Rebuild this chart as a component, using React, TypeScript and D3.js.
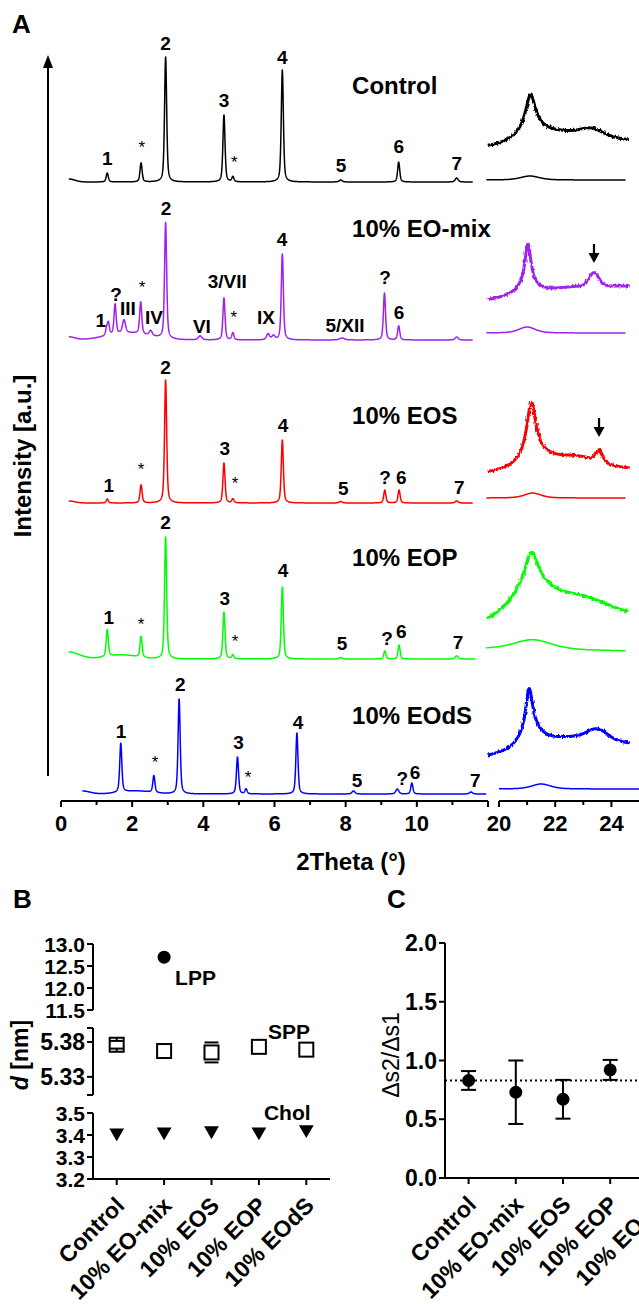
import React from "react";
import * as d3 from "d3";

const FONT = "'Liberation Sans', Arial, Helvetica, sans-serif";

// ================= Panel A : stacked diffractograms =================
const sampleNames = ["Control", "10% EO-mix", "10% EOS", "10% EOP", "10% EOdS"];
const traceColors = ["#000000", "#a020f0", "#ff0000", "#00ff00", "#0000ff"];
// vertical stacking offset of each trace (a.u.)
const stackOffsets = [618, 460, 297, 141, 6];
const saxsStart = [0.22, 0.22, 0.22, 0.22, 0.6];
const saxsEnd = [11.57, 11.57, 11.57, 11.65, 11.95];

// SAXS reflections: [2θ, height, hwhm?, eta?]
const controlPeaks = [
  [1.3, 9], [2.25, 19], [2.94, 125], [4.58, 67], [4.83, 5], [6.22, 112],
  [7.86, 2, 0.05], [9.49, 20], [11.12, 4, 0.05], [0.22, 3, 0.2, 0],
];
const eoMixPeaks = [
  [1.28, 6], [1.33, 12], [1.52, 30], [1.77, 13, 0.05], [2.24, 32], [2.52, 5, 0.05],
  [2.94, 116], [3.91, 4, 0.06], [4.58, 42], [4.83, 7], [5.82, 6, 0.05], [5.97, 4, 0.05],
  [6.22, 86], [7.9, 2, 0.08], [9.09, 47], [9.49, 14], [11.12, 3, 0.05],
  [0.22, 3, 0.2, 0], [1.9, 7, 0.7, 0],
];
const eosPeaks = [
  [1.3, 4], [2.25, 18], [2.94, 123], [4.58, 40], [4.83, 4], [6.22, 63],
  [7.86, 1.5, 0.05], [9.1, 13], [9.5, 13], [11.12, 2, 0.05], [0.22, 2, 0.2, 0],
];
const eopPeaks = [
  [1.3, 27], [2.25, 21], [2.94, 122], [4.58, 47], [4.83, 4], [6.22, 72],
  [7.86, 1.5, 0.05], [9.1, 8], [9.5, 14], [11.12, 3, 0.05], [0.22, 7, 0.35, 0], [1.7, 4, 0.5, 0],
];
const eodsPeaks = [
  [1.68, 49], [2.61, 17], [3.32, 95], [4.96, 37], [5.2, 5], [6.63, 61],
  [8.22, 3, 0.05], [9.45, 5, 0.05], [9.86, 11], [11.52, 2, 0.05], [0.6, 3, 0.25, 0], [2.1, 3, 0.5, 0],
];
const saxsPeaks = [controlPeaks, eoMixPeaks, eosPeaks, eopPeaks, eodsPeaks];

// WAXS (magnified) : background [start, end] and bands [2θ, height, hwhm, eta]
const waxsStart = [19.6, 19.6, 19.6, 19.6, 19.6];
const waxsEnd = [24.6, 24.65, 24.65, 24.6, 24.65];
const waxsBackground = [[33, 37], [39, 53], [28, 33], [25, 40], [36, 45]];
const controlWaxs = [[21.12, 36, 0.22, 1], [21.2, 12, 0.8, 1], [22.8, 12, 1.5, 0], [23.3, 5, 0.4, 0]];
const eoMixWaxs = [[21.03, 42, 0.13, 1], [21.0, 10, 0.5, 1], [22.8, 5, 1.2, 0], [23.38, 13, 0.2, 0]];
const eosWaxs = [[21.15, 55, 0.2, 1], [21.3, 15, 0.8, 1], [22.8, 12, 1.0, 0], [23.56, 11, 0.15, 0]];
const eopWaxs = [[21.15, 35, 0.3, 1], [21.2, 40, 1.2, 1], [23.0, 15, 1.06, 0]];
const eodsWaxs = [[21.07, 43, 0.15, 1], [21.15, 18, 0.5, 1], [22.8, 14, 1.6, 0], [23.5, 9, 0.4, 0]];
const waxsBands = [controlWaxs, eoMixWaxs, eosWaxs, eopWaxs, eodsWaxs];

// WAXS (true scale)
const waxsLowStart = [19.55, 19.55, 19.55, 19.55, 20.0];
const waxsLowEnd = [24.5, 24.5, 24.5, 24.5, 25.0];
const waxsLowBackground = [[2, 2], [7, 7], [5, 5], [10, 8], [5, 5]];
const waxsLowBands = [[21.1, 4, 0.4, 0.5], [21.0, 6, 0.35, 0.5], [21.2, 5, 0.35, 0.5], [21.2, 10, 0.8, 0.5], [21.5, 5, 0.4, 0.5]];

// arrows marking the new WAXS band: [sample, 2θ, tip height above baseline]
const waxsArrows = [[1, 23.38, 77], [2, 23.56, 66]];

// peak labels: [text, 2θ, height above baseline]
const controlLabels = [["1", 1.3, 24], ["*", 2.27, 39], ["2", 2.94, 139], ["3", 4.58, 82], ["*", 4.87, 24], ["4", 6.22, 125], ["5", 7.87, 17], ["6", 9.49, 36], ["7", 11.12, 19]];
const eoMixLabels = [["1", 1.12, 20], ["?", 1.55, 46], ["III", 1.88, 32], ["*", 2.28, 57], ["IV", 2.61, 23], ["2", 2.95, 132], ["VI", 3.96, 14], ["3/VII", 4.67, 59], ["*", 4.86, 27], ["IX", 5.76, 23], ["4", 6.21, 101], ["5/XII", 7.98, 15], ["?", 9.11, 63], ["6", 9.5, 28]];
const eosLabels = [["1", 1.34, 18], ["*", 2.25, 38], ["2", 2.94, 136], ["3", 4.6, 55], ["*", 4.89, 24], ["4", 6.24, 78], ["5", 7.93, 15], ["?", 9.11, 26], ["6", 9.56, 26], ["7", 11.19, 16]];
const eopLabels = [["1", 1.34, 42], ["*", 2.25, 39], ["2", 2.94, 137], ["3", 4.6, 61], ["*", 4.89, 22], ["4", 6.24, 89], ["5", 7.9, 16], ["?", 9.16, 21], ["6", 9.56, 28], ["7", 11.16, 17]];
const eodsLabels = [["1", 1.69, 63], ["*", 2.64, 36], ["2", 3.35, 110], ["3", 4.99, 52], ["*", 5.26, 21], ["4", 6.66, 72], ["5", 8.32, 14], ["?", 9.59, 16], ["6", 9.95, 22], ["7", 11.64, 14]];
const peakLabels = [controlLabels, eoMixLabels, eosLabels, eopLabels, eodsLabels];
const sampleLabelX = 8.18;
const sampleLabelHeight = [97, 112, 88, 102, 79];

const xTicksMajor1 = [0, 2, 4, 6, 8, 10];
const xTicksMinor1 = [1, 3, 5, 7, 9, 11];
const xTicksMajor2 = [20, 22, 24];
const xTicksMinor2 = [21, 23];

// ================= Panel B : d-spacings =================
const categories = ["Control", "10% EO-mix", "10% EOS", "10% EOP", "10% EOdS"];
const lppD = [null, 12.7, null, null, null];
const sppD = [5.376, 5.367, 5.365, 5.373, 5.369];
const sppErr = [0.0055, 0.0, 0.0143, 0.0, 0.0];
const cholD = [3.41, 3.415, 3.42, 3.415, 3.425];
const ticksB1 = [11.5, 12.0, 12.5, 13.0];
const ticksB2 = [5.33, 5.38];
const ticksB3 = [3.2, 3.3, 3.4, 3.5];

// ================= Panel C : Δs2/Δs1 =================
const ratioMean = [0.83, 0.73, 0.67, 0.92, 0.85];
const ratioErr = [0.08, 0.27, 0.165, 0.085, 0.1];
const ratioReference = 0.83;
const ticksC = [0, 0.5, 1.0, 1.5, 2.0];

// ---------------------------------------------------------------
function profile(x: number, comps: number[][], defW = 0.035, defEta = 0.5) {
  let s = 0;
  for (const c of comps) {
    const p = c[0], h = c[1];
    const w = c[2] ?? defW;
    const eta = c[3] ?? defEta;
    const t = (x - p) / w;
    s += h * (eta / (1 + t * t) + (1 - eta) * Math.exp(-Math.LN2 * t * t));
  }
  return s;
}

function sampleRange(a: number, b: number, step: number) {
  const n = Math.round((b - a) / step);
  const out: number[] = [];
  for (let i = 0; i <= n; i++) out.push(a + (i * (b - a)) / n);
  return out;
}

export default function App() {
  const xA1 = d3.scaleLinear().domain([0, 12]).range([61, 488]);
  const xA2 = d3.scaleLinear().domain([20, 25]).range([499, 639.5]);
  const yA = d3.scaleLinear().domain([0, 760]).range([800, 40]);
  const axisY = 801;

  const lineA1 = d3.line<number[]>().x((d) => xA1(d[0])).y((d) => yA(d[1]));
  const lineA2 = d3.line<number[]>().x((d) => xA2(d[0])).y((d) => yA(d[1]));

  const saxsPaths = sampleNames.map((_, i) => {
    const xs = sampleRange(saxsStart[i], saxsEnd[i], 0.004);
    return lineA1(xs.map((x) => [x, stackOffsets[i] + profile(x, saxsPeaks[i])]));
  });
  const waxsPaths = sampleNames.map((_, i) => {
    const xs = sampleRange(waxsStart[i], waxsEnd[i], 0.01);
    const [b0, b1] = waxsBackground[i];
    return lineA2(xs.map((x) => {
      const bg = b0 + ((b1 - b0) * (x - waxsStart[i])) / (waxsEnd[i] - waxsStart[i]);
      return [x, stackOffsets[i] + bg + profile(x, waxsBands[i])];
    }));
  });
  const waxsLowPaths = sampleNames.map((_, i) => {
    const xs = sampleRange(waxsLowStart[i], waxsLowEnd[i], 0.01);
    const [b0, b1] = waxsLowBackground[i];
    return lineA2(xs.map((x) => {
      const bg = b0 + ((b1 - b0) * (x - waxsLowStart[i])) / (waxsLowEnd[i] - waxsLowStart[i]);
      return [x, stackOffsets[i] + bg + profile(x, [waxsLowBands[i]])];
    }));
  });

  // Panel B scales
  const xB = d3.scalePoint<string>().domain(categories).range([93, 330]).padding(0.5);
  const yB1 = d3.scaleLinear().domain([11.5, 13]).range([1010, 944]);
  const yB2 = d3.scaleLinear().domain([5.304, 5.4]).range([1095, 1028]);
  const yB3 = d3.scaleLinear().domain([3.2, 3.5]).range([1179, 1113]);
  const axisBX = 93;
  const axisBY = 1179;

  // Panel C scales
  const xC = d3.scalePoint<string>().domain(categories).range([445, 681]).padding(0.5);
  const yC = d3.scaleLinear().domain([0, 2]).range([1178, 943]);
  const axisCX = 445;
  const axisCY = 1178;

  const tri = d3.symbol().type(d3.symbolTriangle).size(95)();

  const bold = { fontFamily: FONT, fontWeight: 700 } as const;
  const TICK_B = 21;
  const TICK_C = 23;

  return (
    <svg width={639} height={1304} viewBox="0 0 639 1304"
      style={{ position: "absolute", left: 0, top: 0, background: "#fff" }}>
      <defs>
        <filter id="noisy" x="-5%" y="-30%" width="110%" height="160%">
          <feTurbulence type="fractalNoise" baseFrequency="0.6 0.25" numOctaves={1} seed={4} result="n" />
          <feDisplacementMap in="SourceGraphic" in2="n" scale={4} xChannelSelector="R" yChannelSelector="G" />
        </filter>
      </defs>
      <rect x={0} y={0} width={639} height={1304} fill="#fff" />

      {/* ===== Panel A ===== */}
      <text x={12} y={33} fontSize={26} {...bold}>A</text>

      {/* intensity arrow */}
      <line x1={48} x2={48} y1={776} y2={64} stroke="#000" strokeWidth={2} />
      <polygon points="48,55 43,68 53,68" fill="#000" />
      <text transform="translate(30.5,456) rotate(-90)" textAnchor="middle" fontSize={24} {...bold}>
        Intensity [a.u.]
      </text>

      {/* traces */}
      {sampleNames.map((s, i) => (
        <g key={s}>
          <path d={saxsPaths[i] || ""} fill="none" stroke={traceColors[i]} strokeWidth={1.5} strokeLinejoin="round" />
          <path d={waxsPaths[i] || ""} fill="none" stroke={traceColors[i]} strokeWidth={3} strokeLinejoin="round" filter="url(#noisy)" />
          <path d={waxsLowPaths[i] || ""} fill="none" stroke={traceColors[i]} strokeWidth={1.5} />
          <text x={xA1(sampleLabelX)} y={yA(stackOffsets[i] + sampleLabelHeight[i]) + 8.5} fontSize={24} {...bold}>{s}</text>
          {peakLabels[i].map((l, j) => {
            const t = l[0] as string;
            const cy = yA(stackOffsets[i] + (l[2] as number));
            const star = t === "*";
            return (
              <text key={j} x={xA1(l[1] as number)} y={star ? cy + 10 : cy + 6.5}
                textAnchor="middle" fontSize={star ? 17 : 19} fontFamily={FONT} fontWeight={star ? 400 : 700}>
                {t}
              </text>
            );
          })}
        </g>
      ))}

      {waxsArrows.map(([si, x, h], k) => {
        const tipY = yA(stackOffsets[si] + h);
        const ax = xA2(x);
        return (
          <g key={k}>
            <line x1={ax} x2={ax} y1={tipY - 19} y2={tipY - 6} stroke="#000" strokeWidth={2.2} />
            <polygon points={`${ax},${tipY} ${ax - 5.5},${tipY - 10} ${ax + 5.5},${tipY - 10}`} fill="#000" />
          </g>
        );
      })}

      {/* x axis A */}
      <line x1={xA1(0)} x2={xA1(12)} y1={axisY} y2={axisY} stroke="#000" strokeWidth={2} />
      <line x1={xA2(20)} x2={639} y1={axisY} y2={axisY} stroke="#000" strokeWidth={2} />
      {[...xTicksMajor1, 12].map((t) => (
        <line key={"M" + t} x1={xA1(t)} x2={xA1(t)} y1={axisY} y2={axisY + 6} stroke="#000" strokeWidth={2} />
      ))}
      {xTicksMinor1.map((t) => (
        <line key={"m" + t} x1={xA1(t)} x2={xA1(t)} y1={axisY} y2={axisY + 4} stroke="#000" strokeWidth={2} />
      ))}
      {xTicksMajor2.map((t) => (
        <line key={"M2" + t} x1={xA2(t)} x2={xA2(t)} y1={axisY} y2={axisY + 6} stroke="#000" strokeWidth={2} />
      ))}
      {xTicksMinor2.map((t) => (
        <line key={"m2" + t} x1={xA2(t)} x2={xA2(t)} y1={axisY} y2={axisY + 4} stroke="#000" strokeWidth={2} />
      ))}
      {xTicksMajor1.map((t) => (
        <text key={"l" + t} x={xA1(t)} y={831} textAnchor="middle" fontSize={22} {...bold}>{t}</text>
      ))}
      {xTicksMajor2.map((t) => (
        <text key={"l2" + t} x={xA2(t)} y={831} textAnchor="middle" fontSize={22} {...bold}>{t}</text>
      ))}
      <text x={351} y={870} textAnchor="middle" fontSize={24} {...bold}>2Theta (°)</text>

      {/* ===== Panel B ===== */}
      <text x={13} y={908} fontSize={26} {...bold}>B</text>
      <text transform="translate(28,1055) rotate(-90)" textAnchor="middle" fontSize={23} {...bold}>
        <tspan fontStyle="italic">d</tspan> [nm]
      </text>
      {/* segmented y axis */}
      <line x1={axisBX} x2={axisBX} y1={yB1(13)} y2={yB1(11.5)} stroke="#000" strokeWidth={2} />
      <line x1={axisBX} x2={axisBX} y1={yB2(5.4)} y2={yB2(5.304)} stroke="#000" strokeWidth={2} />
      <line x1={axisBX} x2={axisBX} y1={yB3(3.5)} y2={yB3(3.2)} stroke="#000" strokeWidth={2} />
      {ticksB1.map((t) => (
        <g key={"b1" + t}>
          <line x1={axisBX - 6} x2={axisBX} y1={yB1(t)} y2={yB1(t)} stroke="#000" strokeWidth={2} />
          <text x={axisBX - 8} y={yB1(t) + 7.5} textAnchor="end" fontSize={TICK_B} {...bold}>{d3.format(".1f")(t)}</text>
        </g>
      ))}
      {[5.304, 5.4].map((t) => (
        <line key={"b2e" + t} x1={axisBX - 6} x2={axisBX} y1={yB2(t)} y2={yB2(t)} stroke="#000" strokeWidth={2} />
      ))}
      {ticksB2.map((t) => (
        <g key={"b2" + t}>
          <line x1={axisBX - 6} x2={axisBX} y1={yB2(t)} y2={yB2(t)} stroke="#000" strokeWidth={2} />
          <text x={axisBX - 8} y={yB2(t) + 8} textAnchor="end" fontSize={TICK_C} {...bold}>{d3.format(".2f")(t)}</text>
        </g>
      ))}
      {ticksB3.map((t) => (
        <g key={"b3" + t}>
          <line x1={axisBX - 6} x2={axisBX} y1={yB3(t)} y2={yB3(t)} stroke="#000" strokeWidth={2} />
          <text x={axisBX - 8} y={yB3(t) + 7.5} textAnchor="end" fontSize={TICK_B} {...bold}>{d3.format(".1f")(t)}</text>
        </g>
      ))}
      <line x1={axisBX} x2={330} y1={axisBY} y2={axisBY} stroke="#000" strokeWidth={2} />
      {categories.map((c) => (
        <g key={"bx" + c}>
          <line x1={xB(c)} x2={xB(c)} y1={axisBY} y2={axisBY + 6} stroke="#000" strokeWidth={2} />
          <text transform={`translate(${(xB(c) as number) + 9},${axisBY + 28}) rotate(-45)`} textAnchor="end" fontSize={23} {...bold}>{c}</text>
        </g>
      ))}
      {/* LPP */}
      {categories.map((c, i) => lppD[i] == null ? null : (
        <circle key={"lpp" + c} cx={xB(c)} cy={yB1(lppD[i] as number)} r={6.5} fill="#000" />
      ))}
      <text x={(xB(categories[1]) as number) + 11} y={yB1(lppD[1] as number) + 27.5} fontSize={21} {...bold}>LPP</text>
      {/* SPP */}
      {categories.map((c, i) => {
        const x = xB(c) as number;
        const y = yB2(sppD[i]);
        const y0 = yB2(sppD[i] - sppErr[i]);
        const y1 = yB2(sppD[i] + sppErr[i]);
        return (
          <g key={"spp" + c}>
            <rect x={x - 7} y={y - 7} width={14} height={14} fill="#fff" stroke="#000" strokeWidth={2} />
            {sppErr[i] > 0 && (
              <g stroke="#000" strokeWidth={2}>
                <line x1={x} x2={x} y1={y0} y2={Math.max(y0, y + 7)} />
                <line x1={x} x2={x} y1={y1} y2={Math.min(y1, y - 7)} />
                <line x1={x - 7} x2={x + 7} y1={y0} y2={y0} />
                <line x1={x - 7} x2={x + 7} y1={y1} y2={y1} />
              </g>
            )}
          </g>
        );
      })}
      <text x={(xB(categories[3]) as number) + 9} y={yB2(sppD[3]) - 7.5} fontSize={21} {...bold}>SPP</text>
      {/* Chol */}
      {categories.map((c, i) => (
        <path key={"ch" + c} d={tri || ""} transform={`translate(${xB(c)},${yB3(cholD[i])}) rotate(180)`} fill="#000" />
      ))}
      <text x={(xB(categories[3]) as number) + 5} y={yB3(cholD[3]) - 11.5} fontSize={21} {...bold}>Chol</text>

      {/* ===== Panel C ===== */}
      <text x={387} y={908} fontSize={26} {...bold}>C</text>
      <text transform="translate(399,1055) rotate(-90)" textAnchor="middle" fontSize={23} fontFamily={FONT}>
        Δs2/Δs1
      </text>
      <line x1={axisCX} x2={axisCX} y1={yC(2)} y2={yC(0)} stroke="#000" strokeWidth={2} />
      {ticksC.map((t) => (
        <g key={"c" + t}>
          <line x1={axisCX - 6} x2={axisCX} y1={yC(t)} y2={yC(t)} stroke="#000" strokeWidth={2} />
          <text x={axisCX - 8} y={yC(t) + 8} textAnchor="end" fontSize={TICK_C} {...bold}>{d3.format(".1f")(t)}</text>
        </g>
      ))}
      <line x1={axisCX} x2={681} y1={axisCY} y2={axisCY} stroke="#000" strokeWidth={2} />
      <line x1={axisCX} x2={681} y1={yC(ratioReference)} y2={yC(ratioReference)} stroke="#000" strokeWidth={2} strokeDasharray="2,3" />
      {categories.map((c, i) => {
        const x = xC(c) as number;
        const y0 = yC(ratioMean[i] - ratioErr[i]);
        const y1 = yC(ratioMean[i] + ratioErr[i]);
        return (
          <g key={"cx" + c}>
            <line x1={x} x2={x} y1={axisCY} y2={axisCY + 6} stroke="#000" strokeWidth={2} />
            <text transform={`translate(${x + 9},${axisCY + 28}) rotate(-45)`} textAnchor="end" fontSize={23} {...bold}>{c}</text>
            <g stroke="#000" strokeWidth={2}>
              <line x1={x} x2={x} y1={y0} y2={y1} />
              <line x1={x - 7.5} x2={x + 7.5} y1={y0} y2={y0} />
              <line x1={x - 7.5} x2={x + 7.5} y1={y1} y2={y1} />
            </g>
            <circle cx={x} cy={yC(ratioMean[i])} r={6.5} fill="#000" />
          </g>
        );
      })}
    </svg>
  );
}
